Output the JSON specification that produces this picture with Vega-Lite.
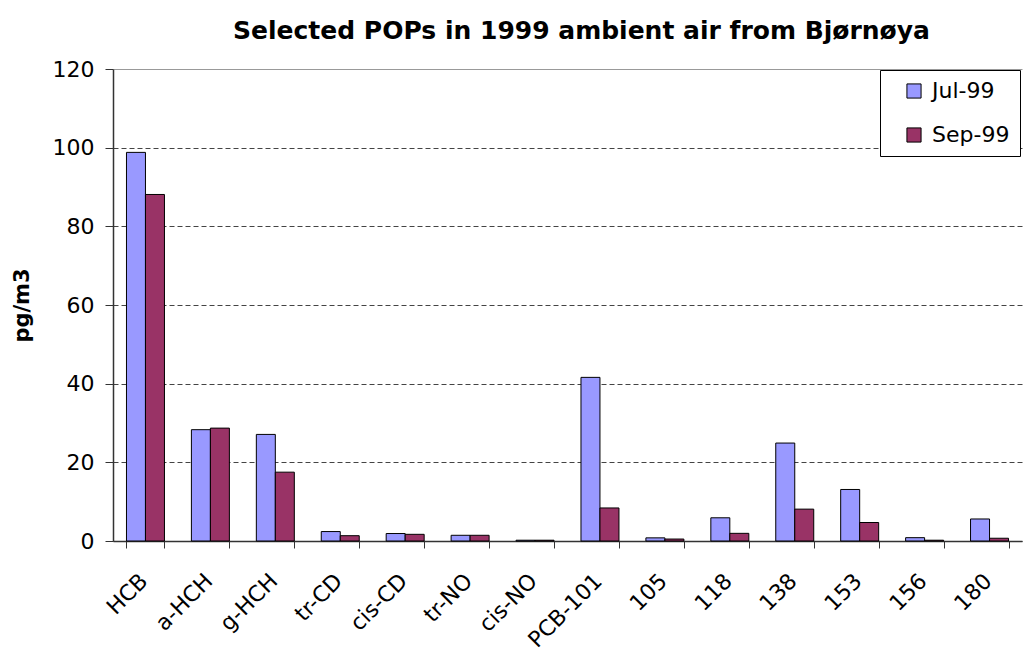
{
  "$schema": "https://vega.github.io/schema/vega-lite/v6.json",
  "autosize": "none",
  "width": 909,
  "height": 472,
  "padding": {"left": 113, "top": 69, "right": 6, "bottom": 114},
  "background": "white",
  "config": {
    "font": "DejaVu Sans",
    "view": {"stroke": null}
  },
  "title": {
    "text": "Selected POPs in 1999 ambient air from Bjørnøya",
    "font": "DejaVu Sans",
    "fontSize": 25,
    "fontWeight": "bold",
    "color": "black",
    "anchor": "middle",
    "frame": "group",
    "dx": 14,
    "offset": 14
  },
  "data": {
    "values": [
      {"compound": "HCB", "month": "Jul-99", "value": 98.8},
      {"compound": "HCB", "month": "Sep-99", "value": 88.1},
      {"compound": "a-HCH", "month": "Jul-99", "value": 28.3},
      {"compound": "a-HCH", "month": "Sep-99", "value": 28.7},
      {"compound": "g-HCH", "month": "Jul-99", "value": 27.1},
      {"compound": "g-HCH", "month": "Sep-99", "value": 17.5},
      {"compound": "tr-CD", "month": "Jul-99", "value": 2.4},
      {"compound": "tr-CD", "month": "Sep-99", "value": 1.35},
      {"compound": "cis-CD", "month": "Jul-99", "value": 1.9},
      {"compound": "cis-CD", "month": "Sep-99", "value": 1.7},
      {"compound": "tr-NO", "month": "Jul-99", "value": 1.45},
      {"compound": "tr-NO", "month": "Sep-99", "value": 1.45},
      {"compound": "cis-NO", "month": "Jul-99", "value": 0.2},
      {"compound": "cis-NO", "month": "Sep-99", "value": 0.2},
      {"compound": "PCB-101", "month": "Jul-99", "value": 41.6},
      {"compound": "PCB-101", "month": "Sep-99", "value": 8.4},
      {"compound": "105", "month": "Jul-99", "value": 0.8},
      {"compound": "105", "month": "Sep-99", "value": 0.5},
      {"compound": "118", "month": "Jul-99", "value": 5.9},
      {"compound": "118", "month": "Sep-99", "value": 1.95},
      {"compound": "138", "month": "Jul-99", "value": 24.9},
      {"compound": "138", "month": "Sep-99", "value": 8.1},
      {"compound": "153", "month": "Jul-99", "value": 13.1},
      {"compound": "153", "month": "Sep-99", "value": 4.7},
      {"compound": "156", "month": "Jul-99", "value": 0.85},
      {"compound": "156", "month": "Sep-99", "value": 0.2},
      {"compound": "180", "month": "Jul-99", "value": 5.6},
      {"compound": "180", "month": "Sep-99", "value": 0.7}
    ]
  },
  "mark": {"type": "bar", "stroke": "black", "strokeWidth": 1},
  "encoding": {
    "x": {
      "field": "compound",
      "type": "nominal",
      "sort": null,
      "scale": {"paddingInner": 0.415, "paddingOuter": 0.2075},
      "axis": {
        "title": null,
        "labelAngle": -45,
        "labelFont": "DejaVu Sans",
        "labelFontSize": 22,
        "labelColor": "black",
        "labelPadding": 22,
        "labelOffset": -9,
        "tickBand": "extent",
        "tickSize": 7,
        "tickColor": "#333333",
        "domainColor": "#333333",
        "domainWidth": 1.5,
        "grid": false
      }
    },
    "xOffset": {"field": "month", "type": "nominal", "sort": ["Jul-99", "Sep-99"], "scale": {"paddingInner": 0, "paddingOuter": 0}},
    "y": {
      "field": "value",
      "type": "quantitative",
      "scale": {"domain": [0, 120], "nice": false},
      "axis": {
        "title": "pg/m3",
        "titleFont": "DejaVu Sans",
        "titleFontSize": 21,
        "titleFontWeight": "bold",
        "titleColor": "black",
        "titlePadding": 20,
        "values": [0, 20, 40, 60, 80, 100, 120],
        "labelFont": "DejaVu Sans",
        "labelFontSize": 22,
        "labelColor": "black",
        "labelPadding": 11,
        "tickSize": 8,
        "tickColor": "#333333",
        "domainColor": "#333333",
        "domainWidth": 1.5,
        "grid": true,
        "gridColor": {"condition": {"test": "datum.value == 120", "value": "#999999"}, "value": "#444444"},
        "gridDash": {"condition": {"test": "datum.value == 120", "value": []}, "value": [5, 3]},
        "gridWidth": 1
      }
    },
    "color": {
      "field": "month",
      "type": "nominal",
      "scale": {"domain": ["Jul-99", "Sep-99"], "range": ["#9999FF", "#993366"]},
      "legend": {
        "title": null,
        "orient": "none",
        "legendX": 767,
        "legendY": 1,
        "strokeColor": "black",
        "fillColor": "white",
        "padding": 10,
        "symbolType": "square",
        "symbolSize": 200,
        "symbolStrokeColor": "black",
        "symbolStrokeWidth": 1,
        "symbolOffset": 13,
        "labelFont": "DejaVu Sans",
        "labelFontSize": 22,
        "labelColor": "black",
        "labelOffset": 7,
        "rowPadding": 22
      }
    }
  }
}
